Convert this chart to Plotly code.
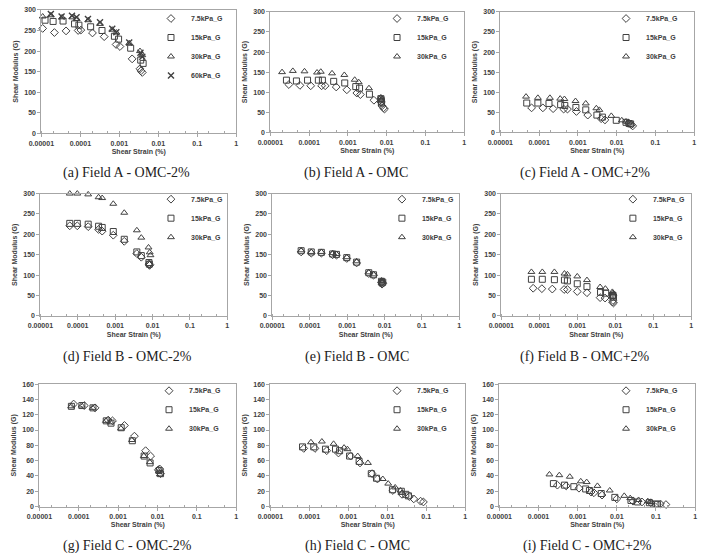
import plotly.graph_objects as go

W, H = 701, 553

# ---------------- DATA ----------------
x_tickvals = [0.00001, 0.0001, 0.001, 0.01, 0.1, 1]
x_ticktext = ["0.00001", "0.0001", "0.001", "0.01", "0.1", "1"]
series_names = ["7.5kPa_G", "15kPa_G", "30kPa_G", "60kPa_G"]
captions = ["(a) Field A - OMC-2%", "(b) Field A - OMC", "(c) Field A - OMC+2%",
            "(d) Field B - OMC-2%", "(e) Field B - OMC", "(f) Field B - OMC+2%",
            "(g) Field C - OMC-2%", "(h) Field C - OMC", "(i) Field C - OMC+2%"]

# (a) Field A - OMC-2%
a_x_75 = [1.08e-5, 2.16e-5, 4.3e-5, 8.8e-5, 1.03e-4, 2.05e-4, 4.1e-4, 8.3e-4, 1.04e-3, 2.14e-3, 3.4e-3, 3.6e-3, 3.9e-3]
a_g_75 = [255, 245, 249, 250, 251, 244, 235, 216, 211, 181, 157, 152, 148]
a_x_15 = [1.24e-5, 2.0e-5, 3.6e-5, 7.1e-5, 9.2e-5, 1.84e-4, 3.6e-4, 7.5e-4, 9.6e-4, 1.96e-3, 3.55e-3, 4.1e-3]
a_g_15 = [275, 272, 273, 266, 263, 259, 250, 236, 229, 207, 178, 170]
a_x_30 = [1.08e-5, 1.75e-5, 3.4e-5, 6.2e-5, 8.1e-5, 1.6e-4, 3.2e-4, 6.6e-4, 8.4e-4, 1.8e-3, 3.4e-3, 3.9e-3]
a_g_30 = [284, 287, 282, 282, 278, 275, 266, 252, 245, 219, 200, 190]
a_x_60 = [1.75e-5, 3.3e-5, 6.1e-5, 8.0e-5, 1.57e-4, 3.2e-4, 6.6e-4, 8.4e-4, 1.8e-3, 3.5e-3, 3.9e-3]
a_g_60 = [290, 284, 286, 282, 278, 270, 254, 246, 221, 196, 186]

# (b) Field A - OMC
b_x_75 = [3.0e-5, 5.8e-5, 1.1e-4, 2.1e-4, 2.6e-4, 5.0e-4, 9.4e-4, 1.7e-3, 2.1e-3, 4.7e-3, 7.2e-3, 7.6e-3, 8.3e-3, 8.8e-3]
b_g_75 = [119, 117, 116, 116, 116, 113, 106, 98, 94, 80, 75, 66, 61, 58]
b_x_15 = [2.6e-5, 4.7e-5, 9.1e-5, 1.73e-4, 2.2e-4, 4.3e-4, 8.3e-4, 1.6e-3, 2.0e-3, 3.6e-3, 7.1e-3, 7.2e-3, 7.3e-3, 7.4e-3]
b_g_15 = [130, 128, 130, 130, 130, 127, 123, 114, 110, 95, 84, 81, 76, 73]
b_x_30 = [2.0e-5, 3.8e-5, 7.6e-5, 1.6e-4, 2.0e-4, 3.9e-4, 8.1e-4, 1.5e-3, 1.9e-3, 3.5e-3, 7.1e-3, 7.3e-3, 7.4e-3]
b_g_30 = [150, 153, 152, 149, 151, 147, 143, 131, 125, 110, 87, 82, 80]

# (c) Field A - OMC+2%
c_x_75 = [6.4e-5, 1.25e-4, 2.3e-4, 4.3e-4, 5.4e-4, 9.2e-4, 1.8e-3, 4.0e-3, 5.0e-3, 2.05e-2, 2.4e-2, 2.6e-2]
c_g_75 = [61, 61, 59, 58, 58, 52, 43, 34, 31, 23, 19, 16]
c_x_15 = [4.8e-5, 9.3e-5, 1.8e-4, 3.6e-4, 4.6e-4, 8.9e-4, 1.6e-3, 3.1e-3, 4.3e-3, 9.8e-3, 1.75e-2, 2.1e-2, 2.3e-2]
c_g_15 = [73, 73, 72, 69, 67, 62, 56, 43, 38, 30, 25, 22, 21]
c_x_30 = [4.6e-5, 9.3e-5, 1.9e-4, 3.5e-4, 4.5e-4, 8.7e-4, 1.6e-3, 3.0e-3, 3.6e-3, 7.3e-3, 1.36e-2, 1.75e-2, 2.0e-2]
c_g_30 = [89, 86, 86, 84, 83, 78, 72, 60, 56, 41, 30, 27, 25]

# (d) Field B - OMC-2%
d_x_75 = [6.1e-5, 9.7e-5, 1.9e-4, 3.6e-4, 4.5e-4, 8.9e-4, 1.75e-3, 3.8e-3, 5.0e-3, 8.0e-3, 8.3e-3, 8.5e-3]
d_g_75 = [221, 221, 219, 212, 208, 198, 183, 153, 144, 127, 124, 126]
d_x_15 = [6.1e-5, 9.7e-5, 1.9e-4, 3.6e-4, 4.5e-4, 8.9e-4, 1.75e-3, 3.8e-3, 5.0e-3, 8.0e-3, 8.2e-3]
d_g_15 = [227, 227, 225, 220, 217, 207, 188, 157, 148, 131, 127]
d_x_30 = [6.1e-5, 9.7e-5, 1.9e-4, 3.6e-4, 4.5e-4, 8.9e-4, 1.75e-3, 3.8e-3, 5.0e-3, 7.8e-3, 8.4e-3, 8.8e-3]
d_g_30 = [300, 300, 298, 291, 289, 275, 253, 210, 192, 168, 156, 149]

# (e) Field B - OMC
e_x_75 = [5.9e-5, 1.1e-4, 2.05e-4, 4.1e-4, 5.2e-4, 9.8e-4, 1.8e-3, 3.8e-3, 5.1e-3, 8.3e-3, 8.6e-3, 9.0e-3]
e_g_75 = [157, 154, 154, 150, 149, 141, 130, 104, 100, 82, 78, 80]
e_x_15 = [5.9e-5, 1.1e-4, 2.05e-4, 4.1e-4, 5.2e-4, 9.8e-4, 1.8e-3, 3.8e-3, 5.1e-3, 8.3e-3, 8.6e-3, 9.0e-3]
e_g_15 = [160, 157, 156, 152, 151, 143, 132, 106, 101, 85, 81, 83]
e_x_30 = [5.9e-5, 1.1e-4, 2.05e-4, 4.1e-4, 5.2e-4, 9.8e-4, 1.8e-3, 3.8e-3, 5.1e-3, 8.3e-3, 8.6e-3, 9.0e-3]
e_g_30 = [161, 157, 157, 154, 152, 144, 134, 107, 102, 87, 84, 86]

# (f) Field B - OMC+2%
f_x_75 = [6.9e-5, 1.17e-4, 2.2e-4, 4.5e-4, 5.5e-4, 1.0e-3, 1.8e-3, 4.0e-3, 5.4e-3, 8.5e-3, 8.7e-3, 9.0e-3]
f_g_75 = [68, 67, 66, 65, 65, 60, 57, 45, 44, 34, 38, 32]
f_x_15 = [6.2e-5, 1.2e-4, 2.5e-4, 4.6e-4, 5.5e-4, 1.0e-3, 1.8e-3, 4.1e-3, 5.6e-3, 8.5e-3, 8.7e-3, 9.0e-3]
f_g_15 = [90, 90, 89, 88, 86, 79, 72, 58, 56, 50, 51, 46]
f_x_30 = [6.2e-5, 1.2e-4, 2.5e-4, 4.6e-4, 5.5e-4, 1.0e-3, 1.8e-3, 4.0e-3, 5.5e-3, 8.4e-3, 8.7e-3, 9.0e-3]
f_g_30 = [108, 108, 108, 104, 102, 97, 88, 71, 67, 59, 56, 53]

# (g) Field C - OMC-2%
g_x_75 = [7.4e-5, 1.38e-4, 2.6e-4, 5.6e-4, 7.2e-4, 1.45e-3, 2.6e-3, 5.0e-3, 6.7e-3, 1.05e-2, 1.15e-2, 1.2e-2]
g_g_75 = [134, 132, 129, 113, 112, 106, 92, 73, 66, 48, 49, 43]
g_x_15 = [6.5e-5, 1.2e-4, 2.3e-4, 5.0e-4, 6.6e-4, 1.2e-3, 2.3e-3, 4.6e-3, 6.5e-3, 1.1e-2, 1.2e-2]
g_g_15 = [131, 132, 129, 112, 109, 103, 86, 66, 57, 47, 43]
g_x_30 = [6.4e-5, 1.18e-4, 2.25e-4, 4.9e-4, 6.4e-4, 1.18e-3, 2.25e-3, 4.5e-3, 6.4e-3, 1.08e-2, 1.15e-2]
g_g_30 = [131, 132, 129, 112, 110, 102, 87, 66, 58, 46, 42]

# (h) Field C - OMC
h_x_75 = [7.2e-5, 1.4e-4, 2.8e-4, 5.6e-4, 1.15e-3, 2.0e-3, 4.1e-3, 5.6e-3, 1.4e-2, 2.4e-2, 3.7e-2, 4.8e-2, 7.2e-2, 8.5e-2]
h_g_75 = [76, 76, 73, 70, 66, 57, 43, 36, 21, 16, 13, 10, 7, 6]
h_x_15 = [6.7e-5, 1.3e-4, 2.6e-4, 4.7e-4, 6.0e-4, 1.08e-3, 1.9e-3, 3.9e-3, 5.3e-3, 1.36e-2, 2.3e-2, 3.0e-2, 3.5e-2]
h_g_15 = [78, 78, 75, 75, 73, 66, 59, 43, 37, 22, 20, 16, 14]
h_x_30 = [1.1e-4, 2.1e-4, 4.2e-4, 7.8e-4, 9.5e-4, 1.75e-3, 3.2e-3, 7.7e-3, 1.06e-2, 1.6e-2, 2.2e-2, 2.4e-2]
h_g_30 = [84, 85, 82, 77, 75, 66, 57, 36, 30, 25, 21, 18]

# (i) Field C - OMC+2%
i_x_75 = [3.04e-4, 5.1e-4, 1.08e-3, 2.2e-3, 2.6e-3, 4.2e-3, 1.0e-2, 2.6e-2, 4.4e-2, 7.4e-2, 1.3e-1, 1.8e-1]
i_g_75 = [28, 27, 24, 19, 18, 15, 10, 7, 6, 5, 3.4, 2.6]
i_x_15 = [2.4e-4, 4.6e-4, 8.0e-4, 1.6e-3, 2.0e-3, 4.0e-3, 8.9e-3, 2.3e-2, 3.4e-2, 6.8e-2, 1.0e-1, 1.1e-1]
i_g_15 = [30, 28, 26, 23, 21, 17, 12, 8, 6, 5, 3.4, 2.9]
i_x_30 = [1.9e-4, 3.4e-4, 6.3e-4, 1.2e-3, 1.7e-3, 3.2e-3, 6.6e-3, 1.55e-2, 2.2e-2, 3.6e-2, 6.2e-2, 7.0e-2, 7.8e-2]
i_g_30 = [42, 41, 39, 33, 32, 27, 21, 14, 11, 8.6, 7, 5.9, 5.6]

panels = [
    [(a_x_75, a_g_75), (a_x_15, a_g_15), (a_x_30, a_g_30), (a_x_60, a_g_60)],
    [(b_x_75, b_g_75), (b_x_15, b_g_15), (b_x_30, b_g_30)],
    [(c_x_75, c_g_75), (c_x_15, c_g_15), (c_x_30, c_g_30)],
    [(d_x_75, d_g_75), (d_x_15, d_g_15), (d_x_30, d_g_30)],
    [(e_x_75, e_g_75), (e_x_15, e_g_15), (e_x_30, e_g_30)],
    [(f_x_75, f_g_75), (f_x_15, f_g_15), (f_x_30, f_g_30)],
    [(g_x_75, g_g_75), (g_x_15, g_g_15), (g_x_30, g_g_30)],
    [(h_x_75, h_g_75), (h_x_15, h_g_15), (h_x_30, h_g_30)],
    [(i_x_75, i_g_75), (i_x_15, i_g_15), (i_x_30, i_g_30)],
]
y_max = [300, 300, 300, 300, 300, 300, 160, 160, 160]
y_dtick = [50, 50, 50, 50, 50, 50, 20, 20, 20]

# ---------------- LAYOUT GEOMETRY (pixels) ----------------
plot_px = [  # left, right, top, bottom
    (29, 228, 6, 131), (263, 461, 8, 130), (498, 696, 8, 130),
    (28, 219, 192, 316), (265, 456, 192, 316), (499, 693, 192, 316),
    (27, 228, 385, 509), (263, 462, 385, 509), (497, 697, 385, 509),
]
# legend text left edge, legend box top
legend_px = [(192, 0), (423, 0), (657, 0),
             (192, 183), (428, 183), (664, 183),
             (190, 377), (423, 377), (657, 377)]
caption_px = [(116, 171), (350, 171), (584, 171),
              (117, 358), (352, 358), (585, 358),
              (117, 549), (352, 549), (587, 549)]

symbols = ["diamond-open", "square-open", "triangle-up-open", "x-thin-open"]
sizes = [6, 6, 6, 6]
mcol = "#404040"
axcol = "#a6a6a6"
tfont = dict(family="Liberation Sans", size=7, color="#404040", weight="bold")

fig = go.Figure()
layout = dict(width=W, height=H, margin=dict(l=0, r=0, t=0, b=0),
              paper_bgcolor="white", plot_bgcolor="white", showlegend=True)
annotations = []

for k, series in enumerate(panels):
    n = "" if k == 0 else str(k + 1)
    lg = "legend" if k == 0 else f"legend{k + 1}"
    for j, (xs, gs) in enumerate(series):
        fig.add_trace(go.Scatter(
            x=xs, y=gs, mode="markers", name=series_names[j],
            xaxis="x" + n, yaxis="y" + n, legend=lg, cliponaxis=False,
            marker=dict(symbol=symbols[j], size=sizes[j], color=mcol,
                        line=dict(color=mcol, width=1.4 if j == 3 else 1)),
        ))
    l, r, t, b = plot_px[k]
    layout["xaxis" + n] = dict(
        domain=[l / W, r / W], anchor="y" + n, type="log", range=[-5, 0],
        tickvals=x_tickvals, ticktext=x_ticktext, tickfont=tfont,
        ticks="outside", ticklen=3, tickcolor=axcol,
        minor=dict(ticks="inside", ticklen=2, tickcolor=axcol, showgrid=False),
        showline=True, linecolor=axcol, linewidth=1, mirror=True,
        showgrid=False, zeroline=False,
        title=dict(text="Shear Strain (%)", font=tfont, standoff=3),
    )
    layout["yaxis" + n] = dict(
        domain=[1 - b / H, 1 - t / H], anchor="x" + n,
        range=[0, y_max[k]], dtick=y_dtick[k], tickfont=tfont,
        ticks="outside", ticklen=3, tickcolor=axcol,
        showline=True, linecolor=axcol, linewidth=1, mirror=True,
        showgrid=False, zeroline=False,
        title=dict(text="Shear Modulus (G)", font=tfont, standoff=4),
    )
    tx, ty = legend_px[k]
    layout[lg] = dict(x=(tx - 51) / W, y=1 - ty / H, xanchor="left", yanchor="top",
                      bgcolor="rgba(0,0,0,0)",
                      font=dict(family="Liberation Sans", size=7, color="#404040", weight="bold"),
                      itemwidth=30, tracegroupgap=0)
    cx, cy = caption_px[k]
    annotations.append(dict(text=captions[k], x=cx / W, y=1 - cy / H, xref="paper", yref="paper",
                            showarrow=False, xanchor="center", yanchor="middle",
                            font=dict(family="Liberation Serif", size=14, color="#222222")))

layout["annotations"] = annotations
fig.update_layout(**layout)
fig.write_html("out.html")
